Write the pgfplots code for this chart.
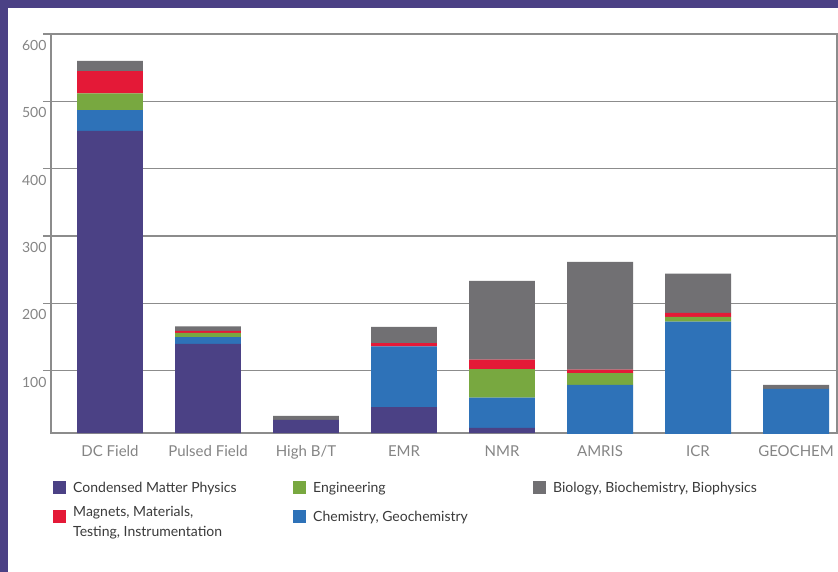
\documentclass[border=0pt]{standalone}
\usepackage{pgfplots}
\pgfplotsset{compat=1.18}
\usepackage{pgfplotstable}
\usepackage{fontspec}
\setmainfont{Lato}
\definecolor{cmp}{HTML}{4B4185}
\definecolor{chem}{HTML}{2E72B8}
\definecolor{eng}{HTML}{78A840}
\definecolor{mag}{HTML}{E41937}
\definecolor{bio}{HTML}{717073}
\definecolor{gridgray}{HTML}{8C8C8C}
\definecolor{labelgray}{HTML}{858585}
\definecolor{legtext}{HTML}{3A3A3A}
\pgfplotstableread{
x cmp chem eng mag bio
0 456 31 25 33 15
1 140 10 6 3 7
2 27 0 0 0 6
3 46 90 0 5 24
4 15 45 42.5 14 117
5 0 79 17.5 5 160
6 0 173 7 6 58
7 0 73 0 0 6
}\data
\begin{document}
\begin{tikzpicture}
\useasboundingbox (0pt,0pt) rectangle (838pt,-572pt);
\fill[cmp] (0pt,0pt) rectangle (838pt,-572pt);
\fill[white] (7.5pt,-8pt) rectangle (838pt,-572pt);
\begin{axis}[
  at={(51pt,-433pt)}, anchor=south west,
  scale only axis, width=786pt, height=399pt,
  ybar stacked, bar width=0.673,
  xmin=-0.602, xmax=7.418, ymin=7.5, ymax=600,
  xtick={0,...,7},
  xticklabels={DC Field, Pulsed Field, High B/T, EMR, NMR, AMRIS, ICR, GEOCHEM},
  ytick={100,200,...,600},
  axis line style={draw=gridgray, line width=1.5pt},
  ymajorgrids, grid style={draw=gridgray, line width=1.5pt},
  major tick length=8pt, tick align=outside,
  ytick style={draw=gridgray, line width=1.5pt},
  xtick style={draw=none},
  /pgf/number format/assume math mode=true,
  ticklabel style={text=labelgray},
  yticklabel style={font=\fontsize{14}{14}\selectfont, anchor=east, yshift=-11.5pt, xshift=7pt},
  xticklabel style={font=\fontsize{15}{15}\selectfont, yshift=-1pt},
  legend style={at={(2pt,-43pt)}, anchor=north west, draw=none, fill=none,
    inner sep=0pt, legend columns=3, /tikz/column sep=7pt, /tikz/row sep=12pt,
    font=\fontsize{14}{20}\selectfont, text=legtext,
    nodes={inner sep=0pt, anchor=west}},
  legend cell align=left,
  legend image code/.code={\fill[#1] (0pt,-6pt) rectangle (13pt,6.5pt);},
]
\addplot[fill=cmp, draw=none, forget plot] table[x=x, y=cmp] {\data};
\addplot[fill=chem, draw=none, forget plot] table[x=x, y=chem] {\data};
\addplot[fill=eng, draw=none, forget plot] table[x=x, y=eng] {\data};
\addplot[fill=mag, draw=none, forget plot] table[x=x, y=mag] {\data};
\addplot[fill=bio, draw=none, forget plot] table[x=x, y=bio] {\data};
\addlegendimage{fill=cmp, draw=none}
\addlegendentry{\parbox[c]{213pt}{Condensed Matter Physics}}
\addlegendimage{fill=eng, draw=none}
\addlegendentry{\parbox[c]{213pt}{Engineering}}
\addlegendimage{fill=bio, draw=none}
\addlegendentry{\parbox[c]{213pt}{Biology, Biochemistry, Biophysics}}
\addlegendimage{fill=mag, draw=none}
\addlegendentry{\parbox[c]{213pt}{Magnets, Materials,\\Testing, Instrumentation}}
\addlegendimage{fill=chem, draw=none}
\addlegendentry{\parbox[c]{213pt}{Chemistry, Geochemistry}}
\end{axis}
\end{tikzpicture}
\end{document}
